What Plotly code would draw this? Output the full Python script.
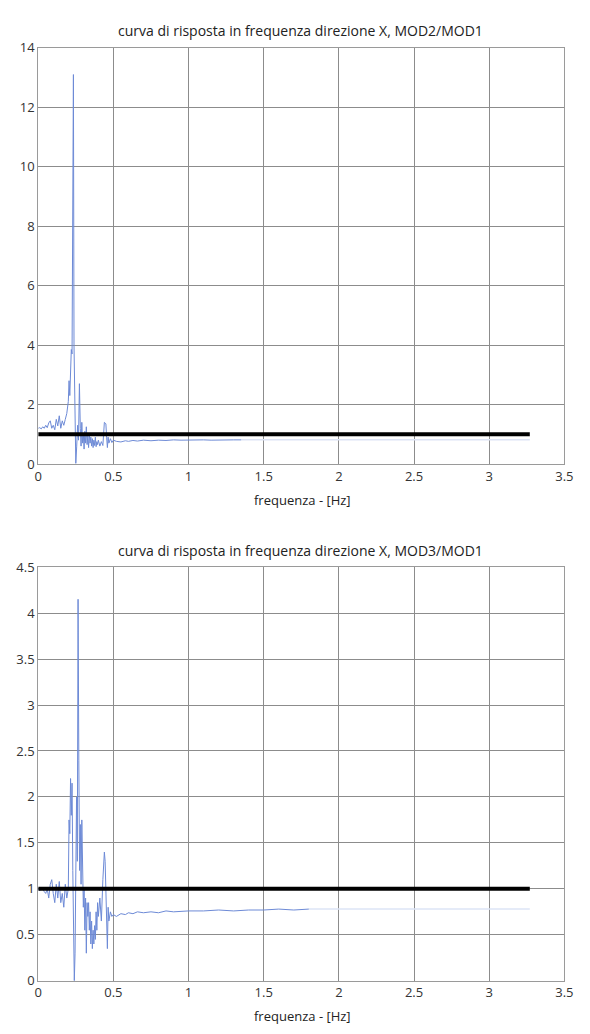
import plotly.graph_objects as go

# ---------------- data ----------------
freq_top = [0.00, 0.01, 0.02, 0.03, 0.04, 0.05, 0.06, 0.07, 0.08, 0.09,
            0.10, 0.11, 0.12, 0.13, 0.14, 0.15, 0.16, 0.17, 0.18, 0.19,
            0.20, 0.205, 0.21, 0.215, 0.22, 0.225, 0.23, 0.234, 0.238, 0.244,
            0.25, 0.256, 0.262, 0.268, 0.274, 0.28, 0.285, 0.29, 0.295, 0.30,
            0.305, 0.31, 0.315, 0.32, 0.325, 0.33, 0.335, 0.34, 0.345, 0.35,
            0.355, 0.36, 0.365, 0.37, 0.375, 0.38, 0.385, 0.39, 0.395, 0.40,
            0.41, 0.42, 0.43, 0.44, 0.45, 0.455, 0.46, 0.465, 0.47, 0.48,
            0.49, 0.50, 0.52, 0.55, 0.58, 0.60, 0.63, 0.66, 0.70, 0.75,
            0.80, 0.85, 0.90, 0.95, 1.00, 1.05, 1.10, 1.15, 1.20, 1.25,
            1.30, 1.35, 1.60, 2.00, 2.50, 3.00, 3.27]
val_top = [1.20, 1.22, 1.18, 1.25, 1.20, 1.30, 1.22, 1.38, 1.45, 1.20,
           1.30, 1.15, 1.50, 1.28, 1.62, 1.20, 1.45, 1.30, 1.50, 1.70,
           2.10, 2.80, 2.30, 3.80, 3.85, 3.70, 8.00, 13.10, 4.00, 1.50,
           0.02, 0.60, 1.30, 0.80, 2.70, 1.20, 0.60, 1.40, 0.70, 1.00,
           0.50, 1.10, 0.70, 1.25, 0.65, 0.95, 0.55, 1.00, 0.70, 0.90,
           0.60, 0.85, 0.55, 0.80, 0.62, 0.90, 0.58, 0.75, 0.65, 0.80,
           0.60, 0.75, 0.62, 1.40, 1.35, 0.90, 0.55, 0.90, 0.70, 0.85,
           0.72, 0.80, 0.76, 0.74, 0.78, 0.76, 0.79, 0.77, 0.80, 0.78,
           0.80, 0.79, 0.81, 0.80, 0.81, 0.80, 0.81, 0.80, 0.81, 0.81,
           0.81, 0.81, 0.81, 0.81, 0.81, 0.81, 0.81]

freq_bot = [0.00, 0.01, 0.02, 0.03, 0.04, 0.05, 0.06, 0.07, 0.08, 0.09,
            0.10, 0.11, 0.12, 0.13, 0.14, 0.15, 0.16, 0.17, 0.18, 0.19,
            0.20, 0.205, 0.21, 0.215, 0.22, 0.225, 0.23, 0.235, 0.24, 0.245,
            0.25, 0.255, 0.26, 0.265, 0.27, 0.275, 0.28, 0.285, 0.29, 0.295,
            0.30, 0.305, 0.31, 0.315, 0.32, 0.325, 0.33, 0.335, 0.34, 0.345,
            0.35, 0.355, 0.36, 0.365, 0.37, 0.375, 0.38, 0.385, 0.39, 0.395,
            0.40, 0.41, 0.42, 0.43, 0.44, 0.445, 0.45, 0.455, 0.46, 0.465,
            0.47, 0.48, 0.49, 0.50, 0.52, 0.55, 0.58, 0.60, 0.63, 0.66,
            0.70, 0.75, 0.80, 0.85, 0.90, 1.00, 1.10, 1.20, 1.30, 1.40,
            1.50, 1.60, 1.70, 1.80, 2.00, 2.50, 3.00, 3.27]
val_bot = [1.00, 0.98, 1.00, 1.00, 0.97, 0.95, 1.00, 0.90, 1.05, 1.10,
           0.95, 0.85, 1.05, 0.90, 1.08, 0.85, 0.95, 0.80, 1.05, 0.90,
           1.00, 1.75, 1.60, 2.20, 1.80, 2.15, 1.20, 0.40, 0.00, 0.30,
           1.10, 2.00, 1.30, 4.15, 2.40, 1.20, 1.70, 1.05, 1.75, 1.30,
           0.80, 1.00, 0.55, 0.90, 0.30, 0.85, 0.70, 0.85, 0.55, 0.75,
           0.40, 0.65, 0.35, 0.55, 0.40, 0.60, 0.45, 0.75, 0.55, 0.85,
           0.70, 0.90, 0.65, 1.10, 1.40, 1.30, 1.00, 0.60, 0.35, 0.80,
           0.65, 0.75, 0.70, 0.72, 0.70, 0.73, 0.72, 0.74, 0.73, 0.75,
           0.74, 0.75, 0.74, 0.76, 0.75, 0.76, 0.76, 0.77, 0.76, 0.77,
           0.77, 0.78, 0.77, 0.78, 0.78, 0.78, 0.78, 0.78]

ref_freq = [0.0, 3.27]
ref_val = [1.0, 1.0]

x_ticks = [0, 0.5, 1, 1.5, 2, 2.5, 3, 3.5]
x_tick_labels = ["0", "0.5", "1", "1.5", "2", "2.5", "3", "3.5"]
y_ticks_top = [0, 2, 4, 6, 8, 10, 12, 14]
y_ticks_bot = [0, 0.5, 1, 1.5, 2, 2.5, 3, 3.5, 4, 4.5]

titles = ["curva di risposta in frequenza direzione X, MOD2/MOD1",
          "curva di risposta in frequenza direzione X, MOD3/MOD1"]
x_label = "frequenza - [Hz]"

# ---------------- styling ----------------
W, H = 590, 1034
FONT = "Open Sans, Liberation Sans, sans-serif"
BLUE = "#6d8ad6"
FAINT = "#dde4f6"
cut_top, cut_bot = 1.35, 1.8

def split(fr, vals, cut):
    a = [(f, v) for f, v in zip(fr, vals) if f <= cut]
    b = [(f, v) for f, v in zip(fr, vals) if f >= cut]
    return [p[0] for p in a], [p[1] for p in a], [p[0] for p in b], [p[1] for p in b]

fig = go.Figure()
for i, (fr, vals, cut) in enumerate([(freq_top, val_top, cut_top), (freq_bot, val_bot, cut_bot)]):
    xa = "x" if i == 0 else "x2"
    ya = "y" if i == 0 else "y2"
    f1, v1, f2, v2 = split(fr, vals, cut)
    fig.add_trace(go.Scatter(x=f2, y=v2, mode="lines", line=dict(color=FAINT, width=1.5),
                             xaxis=xa, yaxis=ya, showlegend=False, hoverinfo="skip"))
    fig.add_trace(go.Scatter(x=f1, y=v1, mode="lines", line=dict(color=BLUE, width=1),
                             xaxis=xa, yaxis=ya, showlegend=False))
    fig.add_trace(go.Scatter(x=ref_freq, y=ref_val, mode="lines", line=dict(color="black", width=4),
                             xaxis=xa, yaxis=ya, showlegend=False))

def px_y(top, bottom):
    return [1 - bottom / H, 1 - top / H]

x0, x1 = 35 / W, 573 / W
axis_common = dict(showgrid=True, gridcolor="#8c8c8c", gridwidth=1, showline=True,
                   linecolor="#9a9a9a", linewidth=1, mirror=True, zeroline=False,
                   ticks="", tickfont=dict(family=FONT, size=13, color="#333333"))

def ann(text, xpx, ypx, size):
    return dict(text=text, x=xpx / W, y=1 - ypx / H, xref="paper", yref="paper",
                showarrow=False, xanchor="center", yanchor="middle",
                font=dict(family=FONT, size=size, color="#222222"))

fig.update_layout(
    width=W, height=H, margin=dict(l=0, r=0, t=0, b=0),
    paper_bgcolor="white", plot_bgcolor="white",
    xaxis=dict(domain=[x0, x1], range=[0, 3.5], tickvals=x_ticks, ticktext=x_tick_labels,
               anchor="y", **axis_common),
    yaxis=dict(domain=px_y(39.5, 463), range=[0, 14], tickvals=y_ticks_top, anchor="x", **axis_common),
    xaxis2=dict(domain=[x0, x1], range=[0, 3.5], tickvals=x_ticks, ticktext=x_tick_labels,
                anchor="y2", **axis_common),
    yaxis2=dict(domain=px_y(568, 989), range=[0, 4.5], tickvals=y_ticks_bot, anchor="x2", **axis_common),
    annotations=[
        ann(titles[0], 303, 22, 14),
        ann(titles[1], 303, 551, 14),
        ann(x_label, 305, 500, 13),
        ann(x_label, 305, 1025, 13),
    ],
)

fig.write_html("out.html")
